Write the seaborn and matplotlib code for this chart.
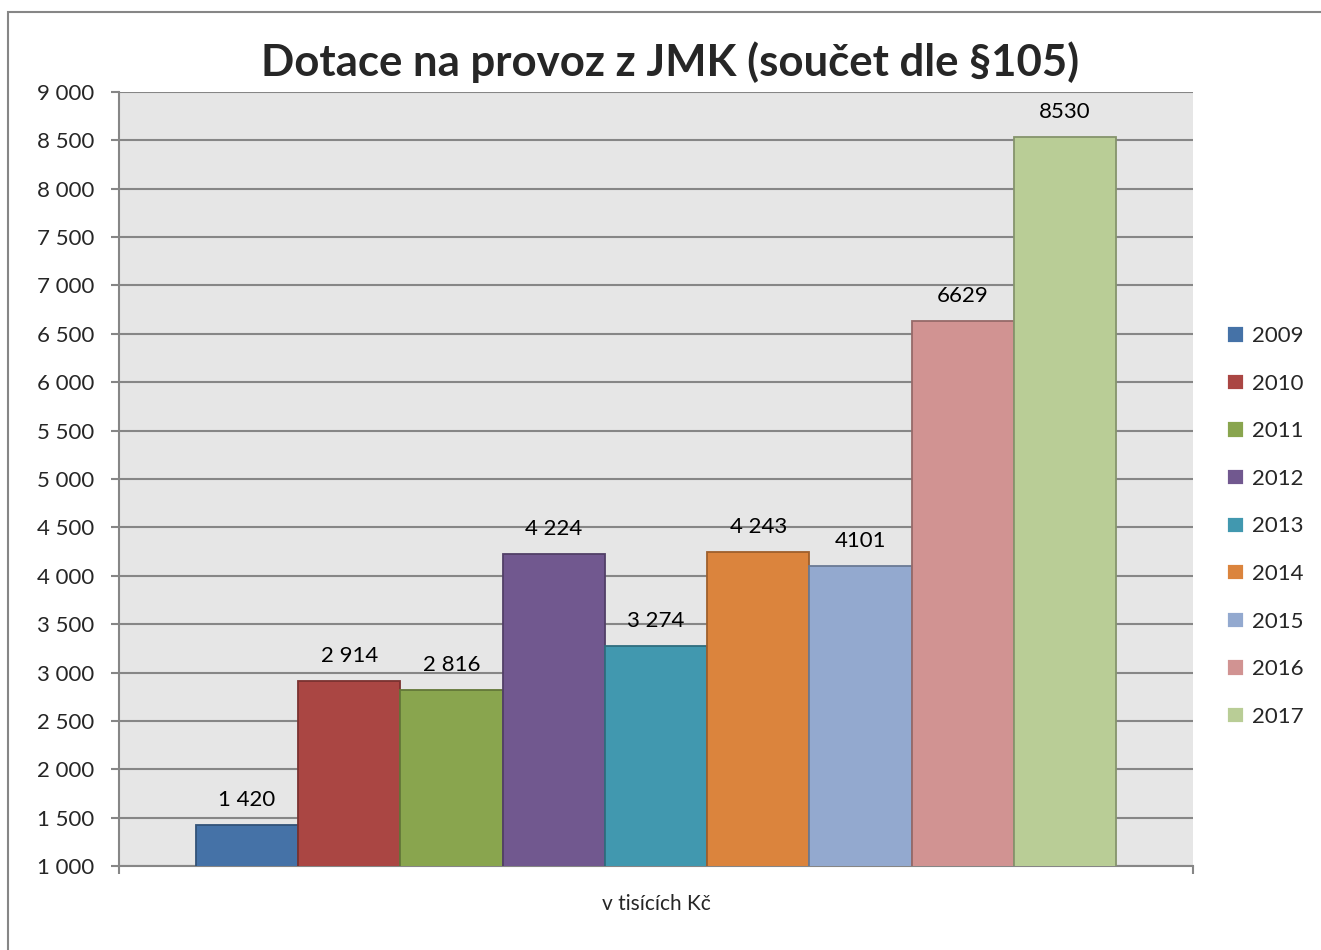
import pandas as pd
import matplotlib.pyplot as plt
import matplotlib.colors as mcolors
from matplotlib.patches import Rectangle
import seaborn as sns

years = ["2009", "2010", "2011", "2012", "2013", "2014", "2015", "2016", "2017"]
values = [1420, 2914, 2816, 4224, 3274, 4243, 4101, 6629, 8530]
value_labels = ["1 420", "2 914", "2 816", "4 224", "3 274", "4 243", "4101", "6629", "8530"]
category = "v tisících Kč"
colors = ["#4572A7", "#AA4643", "#89A54E", "#71588F", "#4198AF",
          "#DB843D", "#93A9CF", "#D19392", "#B9CD96"]
y_ticks = list(range(1000, 9001, 500))
y_tick_labels = [f"{v:,}".replace(",", " ") for v in y_ticks]

df = pd.DataFrame({"cat": [category] * len(years), "year": years, "value": values})

sns.set_theme(style="white")
plt.rcParams["font.family"] = ["Lato", "DejaVu Sans"]

fig = plt.figure(figsize=(13.21, 9.5), dpi=100)
ax = fig.add_axes([0.0901, 0.0884, 0.8130, 0.8148])
ax.set_facecolor("#E6E6E6")

sns.barplot(data=df, x="cat", y="value", hue="year", hue_order=years,
            palette=colors, saturation=1, width=0.857, linewidth=1.3,
            ax=ax, zorder=3)

for cont, c in zip(ax.containers, colors):
    dark = tuple(v * 0.72 for v in mcolors.to_rgb(c))
    for p in cont.patches:
        p.set_edgecolor(dark)

for cont, lab in zip(ax.containers, value_labels):
    ax.bar_label(cont, labels=[lab], padding=11, fontsize=16, color="black")

ax.set_ylim(1000, 9000)
ax.set_xlim(-0.5, 0.5)
ax.set_yticks(y_ticks)
ax.set_yticklabels(y_tick_labels, fontsize=16)
ax.yaxis.grid(True, color="#868686", linewidth=1.5, zorder=0)
ax.set_axisbelow(True)

ax.tick_params(axis="y", left=True, length=6, width=1.5, color="#868686", pad=12)
ax.tick_params(axis="x", which="major", length=0, pad=20, labelsize=15)
ax.set_xticks([-0.5, 0.5], minor=True)
ax.tick_params(axis="x", which="minor", bottom=True, length=6, width=1.5, color="#868686")

ax.set_xlabel("")
ax.set_ylabel("")
for s in ["top", "right"]:
    ax.spines[s].set_visible(False)
for s in ["left", "bottom"]:
    ax.spines[s].set_color("#868686")
    ax.spines[s].set_linewidth(1.5)

fig.text(670 / 1321, 1 - 62 / 950, "Dotace na provoz z JMK (součet dle §105)",
         fontsize=31.5, fontweight="bold", ha="center", va="center")

handles, labels = ax.get_legend_handles_labels()
ax.legend(handles, labels, loc="center left", bbox_to_anchor=(0.929, 0.4458),
          bbox_transform=fig.transFigure, frameon=False, fontsize=16,
          handlelength=0.75, handleheight=0.75, handletextpad=0.35,
          labelspacing=1.24, borderaxespad=0, borderpad=0)

fig.patches.append(Rectangle((8 / 1321, -0.1), 1.2, 1.1 - 12 / 950,
                             transform=fig.transFigure, fill=False,
                             edgecolor="#868686", linewidth=1.5))

plt.savefig("out.png", dpi=100)
